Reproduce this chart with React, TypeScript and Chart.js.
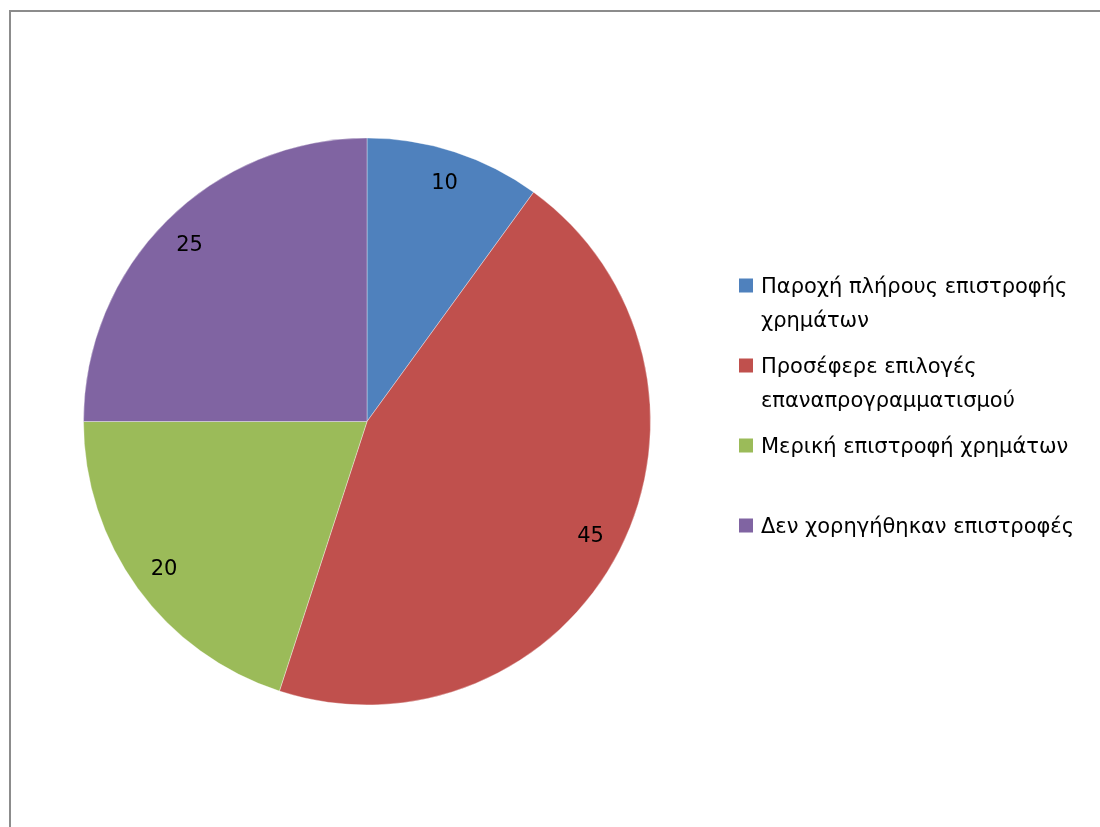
import React, { useEffect, useRef } from "react";
import { Chart, registerables } from "chart.js";

Chart.register(...registerables);

const categories = [
  "Παροχή πλήρους επιστροφής χρημάτων",
  "Προσέφερε επιλογές επαναπρογραμματισμού",
  "Μερική επιστροφή χρημάτων",
  "Δεν χορηγήθηκαν επιστροφές",
];
const legendLines = [
  ["Παροχή πλήρους επιστροφής", "χρημάτων"],
  ["Προσέφερε επιλογές", "επαναπρογραμματισμού"],
  ["Μερική επιστροφή χρημάτων"],
  ["Δεν χορηγήθηκαν επιστροφές"],
];
const values = [10, 45, 20, 25];
const colors = ["#4F81BD", "#C0504D", "#9BBB59", "#8064A2"];

const FONT = "'DejaVu Sans', 'Noto Sans', sans-serif";

const labelsPlugin = {
  id: "sliceLabels",
  afterDatasetsDraw(chart: any) {
    const ctx = chart.ctx;
    const meta = chart.getDatasetMeta(0);
    ctx.save();
    ctx.font = `21px ${FONT}`;
    ctx.fillStyle = "#000";
    ctx.textAlign = "center";
    ctx.textBaseline = "middle";
    meta.data.forEach((arc: any, i: number) => {
      const { x, y, startAngle, endAngle, outerRadius } = arc.getProps(
        ["x", "y", "startAngle", "endAngle", "outerRadius"],
        true
      );
      const mid = (startAngle + endAngle) / 2;
      const r = outerRadius * 0.885;
      ctx.fillText(String(values[i]), x + Math.cos(mid) * r, y + Math.sin(mid) * r + 1);
    });
    ctx.restore();
  },
};

const legendPlugin = {
  id: "sideLegend",
  afterDraw(chart: any) {
    const ctx = chart.ctx;
    const area = chart.chartArea;
    const slot = 80;
    const lineH = 34;
    const boxSize = 14;
    const cx = (area.top + area.bottom) / 2;
    const startTop = cx - (slot * legendLines.length) / 2;
    const boxX = area.right + 88;
    const textX = boxX + 22;
    ctx.save();
    ctx.font = `21px ${FONT}`;
    ctx.textAlign = "left";
    ctx.textBaseline = "alphabetic";
    legendLines.forEach((lines, i) => {
      const baseline = startTop + i * slot + 31;
      ctx.fillStyle = colors[i];
      ctx.fillRect(boxX, baseline - 14, boxSize, boxSize);
      ctx.fillStyle = "#000";
      lines.forEach((ln, j) => {
        ctx.fillText(ln, textX, baseline + j * lineH);
      });
    });
    ctx.restore();
  },
};

export default function App() {
  const ref = useRef<HTMLCanvasElement>(null);
  useEffect(() => {
    if (!ref.current) return;
    const chart = new Chart(ref.current, {
      type: "pie",
      data: {
        labels: categories,
        datasets: [
          {
            data: values,
            backgroundColor: colors,
            borderColor: "rgba(255,255,255,0.35)",
            borderWidth: 1,
          },
        ],
      },
      options: {
        responsive: false,
        animation: false,
        layout: { padding: { left: 83, right: 449, top: 137, bottom: 121 } },
        plugins: {
          legend: { display: false },
          tooltip: { enabled: false },
        },
      },
      plugins: [labelsPlugin, legendPlugin],
    });
    return () => chart.destroy();
  }, []);
  return (
    <div style={{ position: "fixed", left: 0, top: 0, width: 1100, height: 827, overflow: "hidden", background: "#fff" }}>
      <div
        style={{
          position: "absolute",
          left: 9,
          top: 10,
          width: 1200,
          height: 900,
          borderLeft: "2px solid #8c8c8c",
          borderTop: "2px solid #8c8c8c",
          boxSizing: "border-box",
        }}
      />
      <canvas ref={ref} width={1100} height={827} style={{ position: "absolute", left: 0, top: 0 }} />
    </div>
  );
}
